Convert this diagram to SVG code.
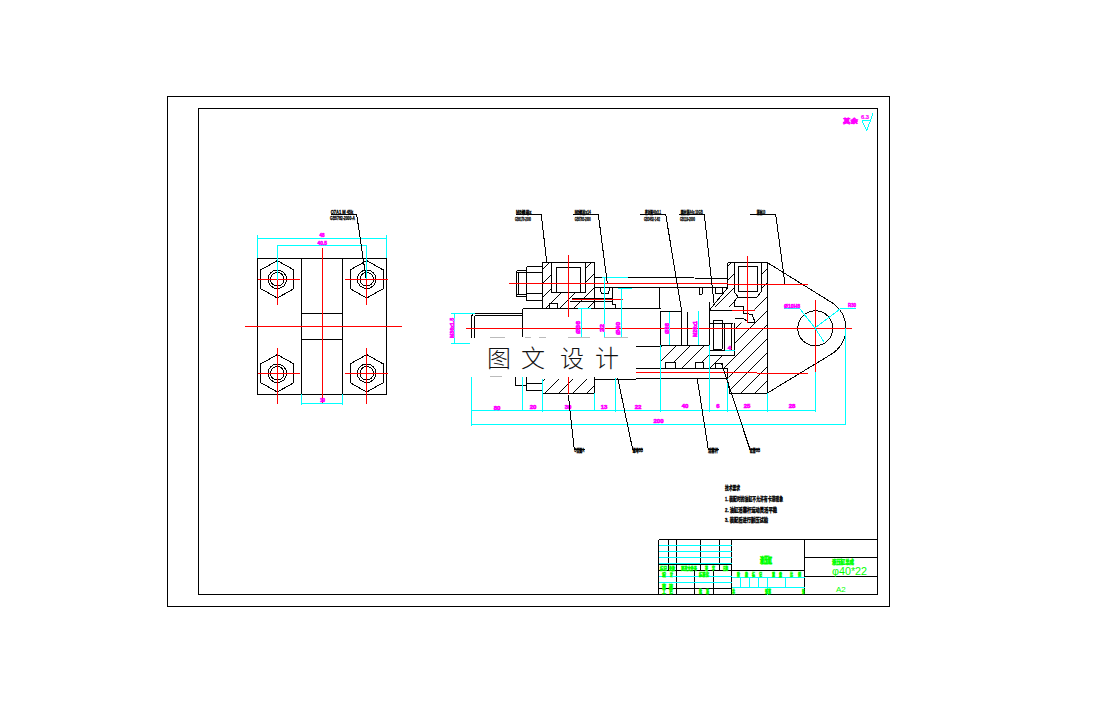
<svg xmlns="http://www.w3.org/2000/svg" width="1104" height="715" viewBox="0 0 1104 715">
<style>
.k{fill:none;stroke:#000;stroke-width:1;shape-rendering:crispEdges}
.r{fill:none;stroke:#f00;stroke-width:1;shape-rendering:crispEdges}
.c{fill:none;stroke:#0ff;stroke-width:1;shape-rendering:crispEdges}
.h{stroke:none}
.m{fill:#f0f;stroke:#f0f;stroke-width:.6;font:bold 6px "Liberation Sans","Noto Sans CJK SC",sans-serif}
.t{fill:#000;stroke:#000;stroke-width:.3;font:bold 5px "Liberation Sans","Noto Sans CJK SC",sans-serif}
.n{fill:#000;stroke:#000;stroke-width:.35;font:bold 6px "Liberation Sans","Noto Sans CJK SC",sans-serif}
.g{fill:#0f0;stroke:#0f0;stroke-width:.5;font:bold 5px "Liberation Sans","Noto Sans CJK SC",sans-serif}
.gl{fill:#0f0;font:11px "Liberation Sans",sans-serif}
.a{font:300 24px "Noto Sans CJK SC",sans-serif;fill:#111}
</style>
<defs>
<pattern id="hp" width="14" height="14" patternUnits="userSpaceOnUse"><path d="M-1 15L15 -1M-1 1L1 -1M13 15L15 13" stroke="#000" stroke-width="1" fill="none"/></pattern>
<g id="hexT"><polygon class="k" points="0,-18.7 16.7,-9.3 16.7,9.3 0,18.7 -16.7,9.3 -16.7,-9.3"/></g>
</defs>
<rect width="1104" height="715" fill="#fff"/>
<g id="frame">
<rect class="k" x="167.5" y="96.5" width="721.5" height="510"/>
<rect class="k" x="198.5" y="108.5" width="679" height="486"/>
</g>
<g id="roughness">
<text class="m" x="843" y="123" textLength="15" lengthAdjust="spacingAndGlyphs">其余</text>
<text class="m" x="861" y="119" textLength="8" lengthAdjust="spacingAndGlyphs" style="stroke-width:.2">6.3</text>
<polyline class="c" points="862,120.5 866.7,130.7 873,113.5"/>
<path class="c" d="M862 120.5H871"/>
</g>
<g id="view-left">
<rect class="k" x="257.5" y="258.5" width="129" height="136"/>
<path class="k" d="M301.5 258.5V394.5M342.5 258.5V394.5M301.5 313.5H342.5M301.5 339.5H342.5"/>
<g transform="translate(277.3 279.3)"><use href="#hexT"/><circle class="k" r="9.3"/><circle class="k" r="6.8"/></g>
<g transform="translate(366.7 279.3)"><use href="#hexT"/><circle class="k" r="9.3"/><circle class="k" r="6.8"/></g>
<g transform="translate(277.3 373.3)"><use href="#hexT"/><circle class="k" r="9.3"/><circle class="k" r="6.8"/></g>
<g transform="translate(366.7 373.3)"><use href="#hexT"/><circle class="k" r="9.3"/><circle class="k" r="6.8"/></g>
<path class="r" d="M245 326.5H402M322.5 248V404M258 279.5H300M345 279.5H388M258 373.5H300M345 373.5H388M277.5 279V305M366.5 279V305M277.5 348V404M366.5 348V404"/>
<path class="c" d="M257.5 238.5H386.5M257.5 235V258M386.5 235V258M277.5 245.5H366.5M277.5 245V280M366.5 245V279M301.5 403.5H342.5M301.5 394V405M342.5 394V405"/>
<text class="m" x="319.5" y="237" textLength="5" lengthAdjust="spacingAndGlyphs">48</text>
<text class="m" x="317.5" y="245" textLength="9.5" lengthAdjust="spacingAndGlyphs">40.5</text>
<text class="m" x="320" y="402" textLength="5" lengthAdjust="spacingAndGlyphs">19</text>
<polyline class="k" points="331,214.5 356.7,214.5 366,278"/>
<text class="t" x="330.7" y="214" textLength="22.6" lengthAdjust="spacingAndGlyphs">O7A1 M 45k</text>
<text class="t" x="330" y="220" textLength="25" lengthAdjust="spacingAndGlyphs">GB5782-2000-A</text>
</g>
<g id="view-main">
<polygon class="h" fill="url(#hp)" points="543,263 552,263 552,293 585,293 585,263 594,263 594,308 543,308"/>
<polygon class="h" fill="url(#hp)" points="768,263 768,393 731,393 727,368 709,368 709,355 734,355 734,323 752,322 757,297 761,292 761,263"/>
<polygon class="h" fill="url(#hp)" points="728,263 734,263 734,307 712,307 727.5,288"/>
<polygon class="h" fill="url(#hp)" points="661,345 709,345 709,368 661,368"/>
<polygon class="h" fill="url(#hp)" points="543,379 594,379 594,393 543,393"/>
<polygon fill="#fff" points="665,362 675,362 675,368 665,368"/>
<polygon fill="#fff" points="695,362 703,362 703,368 695,368"/>
<polygon fill="#fff" points="715,363 722,363 722,368 715,368"/>
<rect class="k" x="542.5" y="262.5" width="52" height="46"/>
<path class="k" d="M526.5 266.5H542.5M526.5 300.5H542.5M526.5 266.5V300.5M526.5 272.5H542.5M526.5 293.5H542.5M516.5 270.5H526.5M516.5 296.5H526.5M516.5 270.5V296.5M518.5 272V294.5M516.5 272H526.5M516.5 294.5H526.5"/>
<rect class="k" x="556.5" y="267.5" width="24" height="25"/>
<path class="k" d="M551.5 262.5V292.5H556.5M585.5 262.5V292.5H580.5M549.5 308V303.5H557.5V308M570 301.5H612.5M572 298.5H612.5"/>
<path class="k" d="M594.5 277.5H661L727.5 278.5M594.5 287.5H727.5M612.5 287.5V304L615.5 305V308.5M522.5 308.5H660.5M659.5 287.5V308.5M600 288L601.5 293.5H608.5L609.5 288M522.5 308.5V337"/>
<path class="k" d="M660.5 311V345M660.5 311.5H681.5M681.5 311.5V345M687.5 311.5V345M660.5 345H709.5M709.5 302V368M709.5 310H733M709.5 323.5H733M713 320V349M722 320V349M724.5 323V350M731 323V350M734.5 323V355M713 320H722M713 349H722M709.5 355H734.5M709.5 350H734.5"/>
<path class="k" d="M699 288V294L702 294 703 288M715 288V293H722L723 288"/>
<path class="k" d="M727.5 262.5H767.5V393.5H729.5M727.5 262.5V288M734.5 262.5V292L738 297L734.5 301V306.5H743V313L752 314.5L755 322H748L743 318H734.5M761 262.5V292L757 297H738M738 266.5H757V291H738V266.5M727.5 288L709.5 310"/>
<path class="k" d="M768 263L830 301.5A30.4 30.4 0 0 1 830 355L768.3 392.5"/>
<circle class="k" cx="815.3" cy="328.3" r="17.5"/>
<path class="k" d="M471.5 340V318Q471.5 313.5 475 313.5H522.5M474 340V318Q474 315.5 477 315.5H522.5"/>
<path class="k" d="M636 346.5H660.5M636 368.5H727.5M636 378.5H727.5M660.5 345V368.5M727.5 368.5V378.5L730 394M665 368V362.5H675V368M695 368V362.5H703V368M715 368V363.5H722V368"/>
<path class="k" d="M515.5 376V385H526.5M526.5 376V390H542.5M526.5 383.5H542.5M522.5 376V385M594.5 376V393.5M542.5 379V393.5H594.5M594.5 379.5H636"/>
<path class="r" d="M466 328.5H852M509 283.5H727.5M727.5 284.5H808M568.5 255V317M747.5 256V323M732 310.5H755M572 299.5H623M815.5 300V372M636 372.5H757M757 373.5H808"/>
<path class="r" d="M568.5 376V394"/>
<path class="c" d="M471.5 410.5H815.5M471.5 424.5H845.5M471.5 376V426M522.5 376V410M542.5 379V412M594.5 393V410M615.5 378V412M660.5 345V412M709.5 345V412M727.5 379V412M767.5 393V412M815.5 372V412M845.5 328V425"/>
<path class="c" d="M454.5 313V343M451 313.5H475M451 343.5H472M581.5 308V337M578 308.5H591M604.5 277V337M602 277.5H628M621.5 288V337M618 288.5H632M669 312V345M698.5 311V345M725 350.5H735M784 308.5H800M840 308.5H856"/>
<polyline class="c" points="800,309 815,328 824,342"/>
<polyline class="c" points="815,328 840,309"/>
<g text-anchor="middle">
<text class="m" x="497" y="410">80</text>
<text class="m" x="533" y="409">20</text>
<text class="m" x="568" y="409">30</text>
<text class="m" x="604" y="409">13</text>
<text class="m" x="638" y="409">22</text>
<text class="m" x="685" y="408">40</text>
<text class="m" x="718" y="408">6</text>
<text class="m" x="747" y="408">25</text>
<text class="m" x="792" y="408">28</text>
<text class="m" x="658.5" y="423">200</text>
</g>
<text class="m" x="784" y="308" textLength="16" lengthAdjust="spacingAndGlyphs">Ø10H8</text>
<text class="m" x="848" y="307" textLength="8" lengthAdjust="spacingAndGlyphs">R30</text>
<text class="m" x="731" y="350" text-anchor="end">4</text>
<text class="m" transform="translate(454 338) rotate(-90)" textLength="20" lengthAdjust="spacingAndGlyphs">M36x1.5</text>
<text class="m" transform="translate(580 334) rotate(-90)" textLength="13" lengthAdjust="spacingAndGlyphs">Ø36</text>
<text class="m" transform="translate(604 332) rotate(-90)" textLength="8" lengthAdjust="spacingAndGlyphs">22</text>
<text class="m" transform="translate(620 335) rotate(-90)" textLength="13" lengthAdjust="spacingAndGlyphs">Ø40</text>
<text class="m" transform="translate(669 334) rotate(-90)" textLength="11" lengthAdjust="spacingAndGlyphs">Ø36</text>
<text class="m" transform="translate(697 337) rotate(-90)" textLength="16" lengthAdjust="spacingAndGlyphs">M20x1</text>
</g>
<g id="connectors">
<polyline class="k" points="516,214.5 541.3,214.5 546.7,262"/>
<polyline class="k" points="573.3,214.5 598.3,214.5 607.3,283"/>
<polyline class="k" points="640,214.5 665.7,214.5 681.7,311"/>
<polyline class="k" points="679.3,214.5 704.3,214.5 714,303"/>
<polyline class="k" points="750,214.5 775.7,214.5 785,284"/>
<polyline class="k" points="568.3,395 574.3,449.5 585,449.5"/>
<polyline class="k" points="617.7,378 632.7,449.5 643,449.5"/>
<polyline class="k" points="697.3,379 708.3,449.5 719,449.5"/>
<polyline class="k" points="721.7,364 750,449.5 760,449.5"/>
</g>
<g id="labels">
<text class="t" x="516" y="214" textLength="15.5" lengthAdjust="spacingAndGlyphs">M8螺母x</text><text class="t" x="515" y="220.5" textLength="16" lengthAdjust="spacingAndGlyphs">GB6170-2000</text>
<text class="t" x="574.7" y="214" textLength="16" lengthAdjust="spacingAndGlyphs">M8螺栓x14</text><text class="t" x="574.7" y="220.5" textLength="16" lengthAdjust="spacingAndGlyphs">GB5783-2000</text>
<text class="t" x="645" y="214" textLength="16" lengthAdjust="spacingAndGlyphs">密封圈40x3.1</text><text class="t" x="644" y="220.5" textLength="16" lengthAdjust="spacingAndGlyphs">GB3452-1-82</text>
<text class="t" x="680.7" y="214" textLength="22" lengthAdjust="spacingAndGlyphs">圆柱销A4x 10GB</text><text class="t" x="680" y="220.5" textLength="15" lengthAdjust="spacingAndGlyphs">GB119-2000</text>
<text class="t" x="756.7" y="214" textLength="8.5" lengthAdjust="spacingAndGlyphs">销轴10</text>
<text class="t" x="574.3" y="451.5" textLength="10" lengthAdjust="spacingAndGlyphs">O型圈A</text>
<text class="t" x="632.7" y="451.5" textLength="10.3" lengthAdjust="spacingAndGlyphs">螺母GB</text>
<text class="t" x="708" y="451.5" textLength="10" lengthAdjust="spacingAndGlyphs">活塞杆</text>
<text class="t" x="750" y="451.5" textLength="10" lengthAdjust="spacingAndGlyphs">缸筒GB</text>
</g>
<g id="overlay">
<rect x="470" y="338" width="166" height="39" fill="#fff"/>
<path d="M490 337.5H505M525 337.5H531M539 337.5H546M568 337.5H590M604 337.5H628M490 376.5H502" stroke="#bbb" stroke-width="1" fill="none"/>
<text class="a" x="487" y="367">图</text>
<text class="a" x="521" y="367">文</text>
<text class="a" x="560" y="367">设</text>
<text class="a" x="595" y="367">计</text>
</g>
<g id="notes">
<text class="n" x="725" y="490" textLength="15" lengthAdjust="spacingAndGlyphs">技术要求</text>
<text class="n" x="725" y="501" textLength="58" lengthAdjust="spacingAndGlyphs">1. 装配时的油缸不允许有卡滞现象</text>
<text class="n" x="725" y="511.5" textLength="52" lengthAdjust="spacingAndGlyphs">2. 油缸活塞杆运动灵活平稳</text>
<text class="n" x="725" y="522" textLength="43" lengthAdjust="spacingAndGlyphs">3. 装配后进行耐压试验</text>
</g>
<g id="title-block">
<path class="k" d="M658.5 539.5H877.5M658.5 539.5V594.5M668.5 539.5V570.5M676.5 539.5V594.5M700.5 539.5V570.5M719.5 539.5V570.5M731.5 539.5V594.5M804.5 539.5V594.5M804.5 557.5H877.5M804.5 576.5H877.5M658.5 564.5H731.5M658.5 570.5H804.5M694.5 570.5V594.5M713.5 570.5V594.5M658.5 588.5H731.5"/>
<path class="c" d="M658.5 545.5H731.5M658.5 551.5H731.5M658.5 557.5H731.5M658.5 563.5H731.5M658.5 576.5H731.5M658.5 582.5H731.5M731.5 577.5H804.5M731.5 587.5H804.5M740.5 577.5V587.5M749.5 577.5V587.5M758.5 577.5V587.5M767.5 577.5V594.5M785.5 577.5V587.5"/>
<text class="g" transform="translate(760 563) scale(.8 1.7)" style="font-size:5px">液压缸</text>
<text class="g" x="832" y="564" textLength="22" lengthAdjust="spacingAndGlyphs" style="font-size:6px">液压缸总成</text>
<text class="gl" x="832" y="574.5" textLength="35" lengthAdjust="spacingAndGlyphs">φ40*22</text>
<text class="gl" x="836" y="592" style="font-size:8px">A2</text>
<text class="g" x="660" y="570" textLength="7" lengthAdjust="spacingAndGlyphs">标记</text><text class="g" x="669" y="570" textLength="6" lengthAdjust="spacingAndGlyphs">处数</text><text class="g" x="681" y="570" textLength="16" lengthAdjust="spacingAndGlyphs">更改文件号</text><text class="g" x="705" y="570" textLength="3" lengthAdjust="spacingAndGlyphs">签</text><text class="g" x="712" y="570" textLength="3" lengthAdjust="spacingAndGlyphs">字</text><text class="g" x="723" y="570" textLength="5" lengthAdjust="spacingAndGlyphs">日期</text>
<text class="g" x="662" y="576" textLength="4" lengthAdjust="spacingAndGlyphs">设</text><text class="g" x="670" y="576" textLength="3" lengthAdjust="spacingAndGlyphs">计</text><text class="g" x="699" y="576" textLength="10" lengthAdjust="spacingAndGlyphs">标准化</text>
<text class="g" x="662" y="587.5" textLength="4" lengthAdjust="spacingAndGlyphs">审</text><text class="g" x="669" y="587.5" textLength="4" lengthAdjust="spacingAndGlyphs">核</text>
<text class="g" x="662" y="593" textLength="4" lengthAdjust="spacingAndGlyphs">工</text><text class="g" x="669" y="593" textLength="4" lengthAdjust="spacingAndGlyphs">艺</text><text class="g" x="699" y="593" textLength="3" lengthAdjust="spacingAndGlyphs">批</text><text class="g" x="706" y="593" textLength="3" lengthAdjust="spacingAndGlyphs">准</text>
<text class="g" x="737" y="576" textLength="3" lengthAdjust="spacingAndGlyphs">阶</text><text class="g" x="745" y="576" textLength="3" lengthAdjust="spacingAndGlyphs">段</text><text class="g" x="752" y="576" textLength="3" lengthAdjust="spacingAndGlyphs">标</text><text class="g" x="759" y="576" textLength="3" lengthAdjust="spacingAndGlyphs">记</text><text class="g" x="772" y="576" textLength="3" lengthAdjust="spacingAndGlyphs">重</text><text class="g" x="779" y="576" textLength="3" lengthAdjust="spacingAndGlyphs">量</text><text class="g" x="790" y="576" textLength="3" lengthAdjust="spacingAndGlyphs">比</text><text class="g" x="798" y="576" textLength="3" lengthAdjust="spacingAndGlyphs">例</text>
<text class="g" x="732" y="593" textLength="3" lengthAdjust="spacingAndGlyphs">共</text><text class="g" x="765" y="593" textLength="6" lengthAdjust="spacingAndGlyphs">张第</text><text class="g" x="802" y="593" textLength="2.5" lengthAdjust="spacingAndGlyphs">张</text>
</g>
</svg>
